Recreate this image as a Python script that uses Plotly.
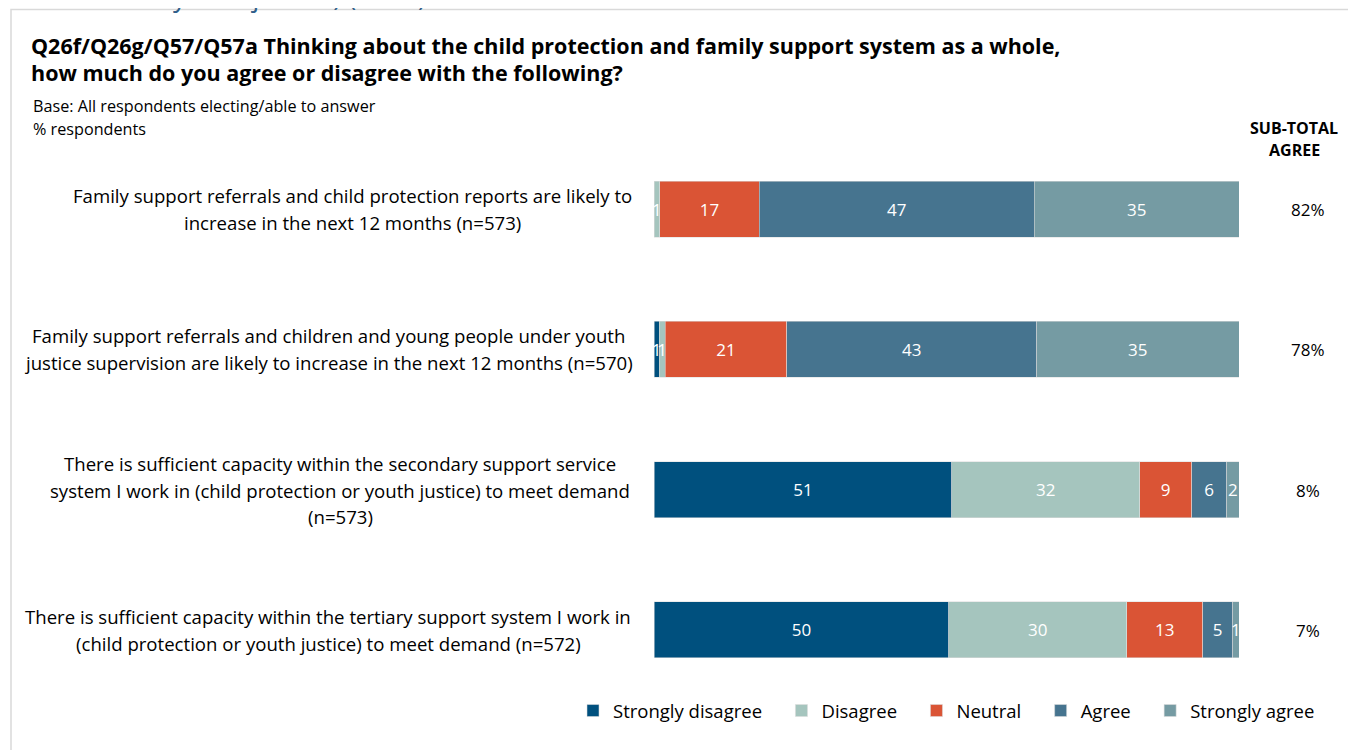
import plotly.graph_objects as go

W, H = 1356, 750
OFF = 8  # page body margin

# ---- data ----
categories = [
    "Family support referrals and child protection reports are likely to<br>increase in the next 12 months (n=573)",
    "Family support referrals and children and young people under youth<br>justice supervision are likely to increase in the next 12 months (n=570)",
    "There is sufficient capacity within the secondary support service<br>system I work in (child protection or youth justice) to meet demand<br>(n=573)",
    "There is sufficient capacity within the tertiary support system I work in<br>(child protection or youth justice) to meet demand (n=572)",
]
series_names = ["Strongly disagree", "Disagree", "Neutral", "Agree", "Strongly agree"]
strongly_disagree = [0.0, 0.9, 50.9, 50.4]
disagree = [1.0, 1.0, 32.1, 30.4]
neutral = [17.0, 20.8, 8.9, 13.0]
agree = [47.0, 42.7, 6.0, 5.1]
strongly_agree = [35.0, 34.6, 2.1, 1.1]
labels_strongly_disagree = ["", "1", "51", "50"]
labels_disagree = ["1", "1", "32", "30"]
labels_neutral = ["17", "21", "9", "13"]
labels_agree = ["47", "43", "6", "5"]
labels_strongly_agree = ["35", "35", "2", "1"]
subtotal_agree = ["82%", "78%", "8%", "7%"]

colors = ["#00507E", "#A5C5BE", "#DA5435", "#46748F", "#759BA3"]
values = [strongly_disagree, disagree, neutral, agree, strongly_agree]
labels = [labels_strongly_disagree, labels_disagree, labels_neutral,
          labels_agree, labels_strongly_agree]

FONT = "Open Sans"
PAD = "\u00a0\u00a0\u00a0"  # extra spacing after each legend entry

def px_x(x):
    return (x - OFF) / W

def px_y(y):
    return 1 - (y - OFF) / H

fig = go.Figure()
ypos = list(range(len(categories)))
for i, (name, vals, labs, col) in enumerate(zip(series_names, values, labels, colors)):
    fig.add_trace(go.Bar(
        y=ypos, x=vals, name=name + (PAD if i < len(series_names) - 1 else ""),
        orientation="h",
        marker=dict(color=col, line=dict(color="rgba(220,220,220,0.9)", width=0.6)),
        text=labs, textposition="inside", insidetextanchor="middle",
        textangle=0, cliponaxis=False,
        textfont=dict(color="white", size=17, family=FONT),
        hovertemplate=name + ": %{x}<extra></extra>",
    ))

row_centers = [209, 349, 490, 630]
plot_top = row_centers[0] - 70
plot_bot = row_centers[-1] + 70

fig.update_layout(
    width=W, height=H,
    margin=dict(l=0, r=0, t=0, b=0),
    paper_bgcolor="white", plot_bgcolor="white",
    barmode="stack", bargap=0.6,
    font=dict(family=FONT, color="#000000"),
    uniformtext=dict(minsize=17, mode="show"),
    xaxis=dict(domain=[px_x(654), px_x(1239)], range=[0, 100], visible=False, fixedrange=True),
    yaxis=dict(domain=[px_y(plot_bot), px_y(plot_top)], range=[3.5, -0.5],
               visible=False, fixedrange=True),
    legend=dict(orientation="h", x=px_x(573), y=px_y(711), xanchor="left", yanchor="middle",
                font=dict(size=18.5, family=FONT, color="#000000"), itemwidth=30,
                traceorder="normal", bgcolor="rgba(0,0,0,0)"),
    showlegend=True,
)

ann = []
# cut-off heading at very top
ann.append(dict(text="protection or youth justice) (2023)", x=px_x(-1), y=px_y(-4),
                xref="paper", yref="paper", xanchor="left", yanchor="middle",
                showarrow=False, font=dict(size=27, family=FONT, color="#2F5F8A")))
# title
title_lines = ["Q26f/Q26g/Q57/Q57a Thinking about the child protection and family support system as a whole,",
               "how much do you agree or disagree with the following?"]
for i, t in enumerate(title_lines):
    ann.append(dict(text="<b>" + t + "</b>", x=px_x(29), y=px_y(45 + 27 * i),
                    xref="paper", yref="paper", xanchor="left", yanchor="middle",
                    showarrow=False, font=dict(size=21.5, family=FONT, color="#000000")))
base_lines = ["Base: All respondents electing/able to answer", "% respondents"]
for i, t in enumerate(base_lines):
    ann.append(dict(text=t, x=px_x(31), y=px_y(106 + 23 * i),
                    xref="paper", yref="paper", xanchor="left", yanchor="middle",
                    showarrow=False, font=dict(size=16.2, family=FONT, color="#000000")))
# subtotal header
for i, t in enumerate(["SUB-TOTAL", "AGREE"]):
    ann.append(dict(text="<b>" + t + "</b>", x=px_x(1294), y=px_y(128 + 22 * i),
                    xref="paper", yref="paper", xanchor="center", yanchor="middle",
                    showarrow=False, font=dict(size=16, family=FONT, color="#000000")))
# category labels (one annotation per line, centred)
label_centers = [352, 328, 340, 328]
for cat, cy, cx in zip(categories, row_centers, label_centers):
    lines = cat.split("<br>")
    n = len(lines)
    for j, ln in enumerate(lines):
        yy = cy + (j - (n - 1) / 2) * 26.5
        ann.append(dict(text=ln, x=px_x(cx), y=px_y(yy),
                        xref="paper", yref="paper", xanchor="center", yanchor="middle",
                        showarrow=False, font=dict(size=18.6, family=FONT, color="#000000")))
# subtotal values
for v, cy in zip(subtotal_agree, row_centers):
    ann.append(dict(text=v, x=px_x(1308), y=px_y(cy),
                    xref="paper", yref="paper", xanchor="center", yanchor="middle",
                    showarrow=False, font=dict(size=17, family=FONT, color="#000000")))
fig.update_layout(annotations=ann)

# frame border
fig.add_shape(type="rect", xref="paper", yref="paper",
              x0=px_x(11), x1=px_x(W + 30), y0=px_y(H + 30), y1=px_y(9.5),
              line=dict(color="#D9D9D9", width=1.5), fillcolor="rgba(0,0,0,0)", layer="below")

fig.write_html("out.html")
